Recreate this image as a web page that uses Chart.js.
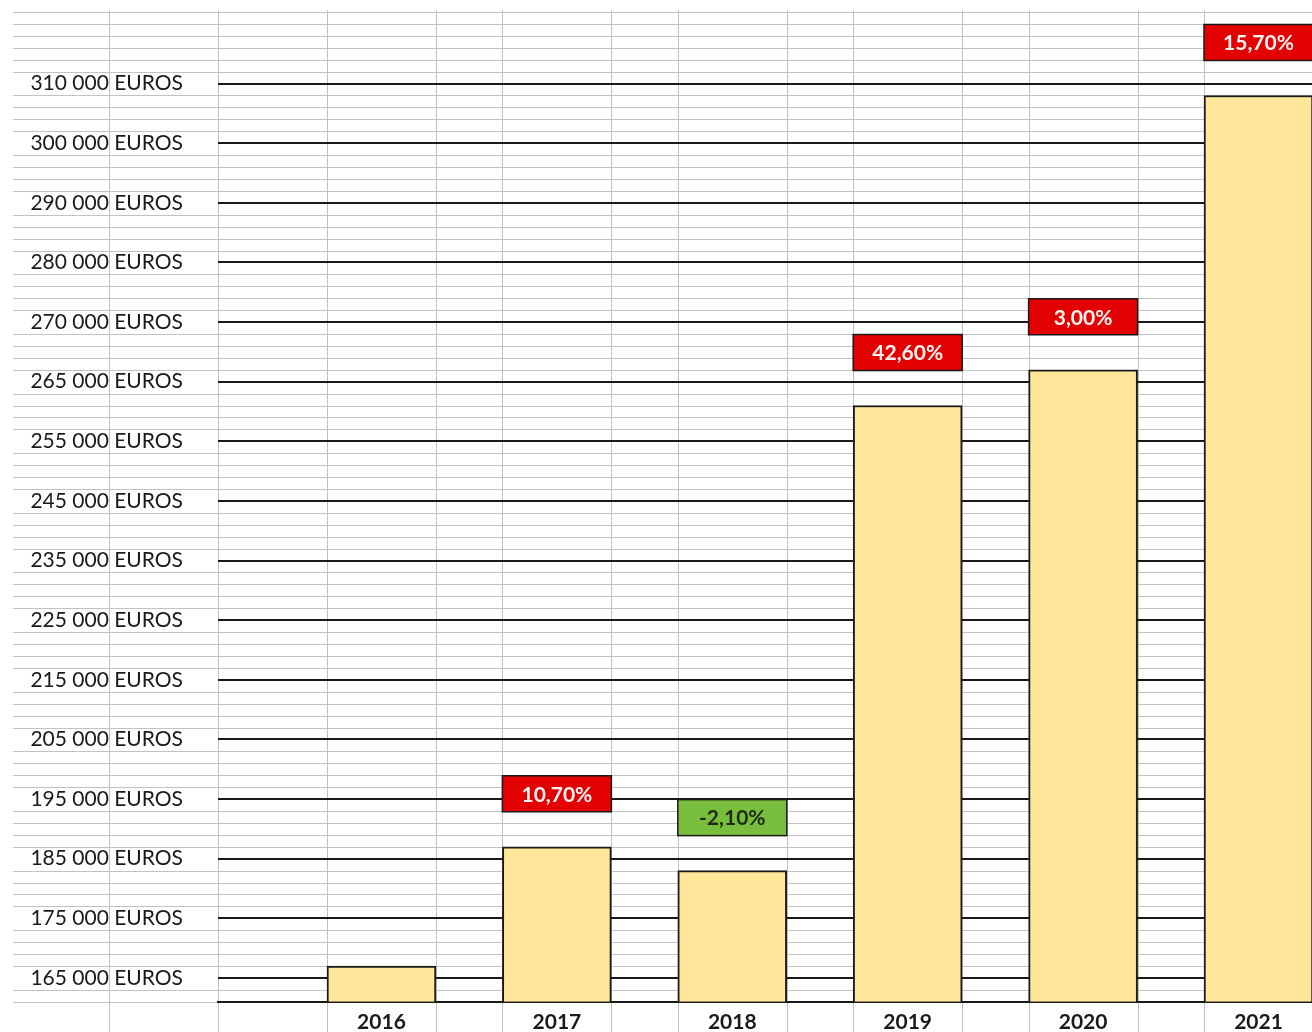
<!DOCTYPE html>
<html>
<head>
<meta charset="utf-8">
<script src="https://cdn.jsdelivr.net/npm/chart.js@4/dist/chart.umd.min.js"></script>
<style>
  html, body { margin: 0; padding: 0; background: #ffffff; }
  #wrap { width: 1312px; height: 1032px; position: relative; }
</style>
</head>
<body>
<div id="wrap"><canvas id="c" width="1312" height="1032"></canvas></div>
<script>
// ---- data ----
const years = [2016, 2017, 2018, 2019, 2020, 2021];
const amounts = [167000, 187000, 183000, 261000, 266000, 308000];
const changes = ['', '10,70%', '-2,10%', '42,60%', '3,00%', '15,70%'];
const changeSign = [0, 1, -1, 1, 1, 1];
// y-axis labels as they appear, bottom to top (evenly spaced on screen)
const yTickValues = [165000, 175000, 185000, 195000, 205000, 215000, 225000, 235000,
                     245000, 255000, 265000, 270000, 280000, 290000, 300000, 310000];

// map a euro amount to the position of the (uneven) printed scale
function toAxis(v) {
  const t = yTickValues;
  let i = 0;
  if (v <= t[0]) i = 0;
  else if (v >= t[t.length - 1]) i = t.length - 2;
  else { while (!(v >= t[i] && v <= t[i + 1])) i++; }
  return i + (v - t[i]) / (t[i + 1] - t[i]);
}
function fmtEuro(v) {
  return String(v).replace(/\B(?=(\d{3})+(?!\d))/g, ' ') + ' EUROS';
}

const FONT = 'Lato, "Open Sans", sans-serif';
const Y_MIN = -0.4, Y_MAX = 16.2;
const BAR_W = 109;

// spreadsheet-like background grid
const sheetGrid = {
  id: 'sheetGrid',
  beforeDraw(chart) {
    const ctx = chart.ctx, ys = chart.scales.y, xs = chart.scales.x;
    ctx.save();
    ctx.fillStyle = '#ffffff';
    ctx.fillRect(0, 0, chart.width, chart.height);
    ctx.strokeStyle = '#c2c2c2';
    ctx.lineWidth = 1;
    // rows: five per printed step
    for (let k = Math.round(Y_MIN * 5); k <= Math.round(Y_MAX * 5); k++) {
      if (k % 5 === 0 && k >= 0 && k < yTickValues.length * 5) continue;
      const y = Math.round(ys.getPixelForValue(k / 5)) + 0.5;
      ctx.beginPath();
      ctx.moveTo(13, y);
      ctx.lineTo(chart.width, y);
      ctx.stroke();
    }
    // columns
    const cols = [109, chart.chartArea.left];
    years.forEach(yr => {
      const cx = xs.getPixelForValue(yr);
      cols.push(cx - BAR_W / 2, cx + BAR_W / 2);
    });
    cols.forEach(x => {
      const px = Math.round(x) + 0.5;
      ctx.beginPath();
      ctx.moveTo(px, 10);
      ctx.lineTo(px, chart.height);
      ctx.stroke();
    });
    ctx.restore();
  }
};

// percentage boxes above the bars
const changeBoxes = {
  id: 'changeBoxes',
  afterDatasetsDraw(chart) {
    const ctx = chart.ctx;
    const meta = chart.getDatasetMeta(0);
    ctx.save();
    meta.data.forEach((bar, i) => {
      if (!changes[i]) return;
      const left = bar.x - BAR_W / 2;
      const top = bar.y - 71;
      const h = 36;
      ctx.fillStyle = changeSign[i] < 0 ? '#78BE3C' : '#E30000';
      ctx.fillRect(left, top, BAR_W, h);
      ctx.strokeStyle = '#1a1a1a';
      ctx.lineWidth = 1.5;
      ctx.strokeRect(left, top, BAR_W, h);
      ctx.fillStyle = changeSign[i] < 0 ? '#1f2a14' : '#fff4f2';
      ctx.font = 'bold 21px ' + FONT;
      ctx.textAlign = 'center';
      ctx.textBaseline = 'middle';
      ctx.fillText(changes[i], bar.x, top + h / 2 + 1);
    });
    ctx.restore();
  }
};

new Chart(document.getElementById('c'), {
  type: 'bar',
  data: {
    datasets: [{
      data: years.map((yr, i) => ({ x: yr, y: toAxis(amounts[i]) })),
      base: Y_MIN,
      backgroundColor: '#FFE699',
      borderColor: '#1a1a1a',
      borderWidth: 2,
      borderSkipped: 'start',
      barThickness: BAR_W
    }]
  },
  options: {
    responsive: false,
    animation: false,
    layout: { padding: { top: 12, left: 0, right: 0, bottom: 0 } },
    plugins: { legend: { display: false }, tooltip: { enabled: false } },
    scales: {
      x: {
        type: 'linear',
        offset: false,
        min: 2015.068,
        max: 2021.305,
        grid: { display: false, offset: false },
        border: { display: true, color: '#1a1a1a', width: 2 },
        afterBuildTicks: s => { s.ticks = years.map(v => ({ value: v })); },
        afterFit: s => { s.height = 30.2; s.paddingLeft = 0; s.paddingRight = 0; },
        ticks: {
          padding: 0,
          color: '#1a1a1a',
          font: { family: FONT, size: 21, weight: 'bold' },
          maxRotation: 0,
          autoSkip: false,
          callback: v => String(v)
        }
      },
      y: {
        type: 'linear',
        min: Y_MIN,
        max: Y_MAX,
        afterBuildTicks: s => { s.ticks = yTickValues.map((v, i) => ({ value: i })); },
        afterFit: s => { s.width = 218; s.paddingTop = 0; s.paddingBottom = 0; },
        grid: { color: '#1a1a1a', lineWidth: 2, drawTicks: false },
        border: { display: false },
        ticks: {
          padding: 35,
          color: '#1a1a1a',
          font: { family: FONT, size: 21 },
          autoSkip: false,
          callback: v => (Number.isInteger(v) && yTickValues[v] !== undefined) ? fmtEuro(yTickValues[v]) : ''
        }
      }
    }
  },
  plugins: [sheetGrid, changeBoxes]
});
</script>
</body>
</html>
